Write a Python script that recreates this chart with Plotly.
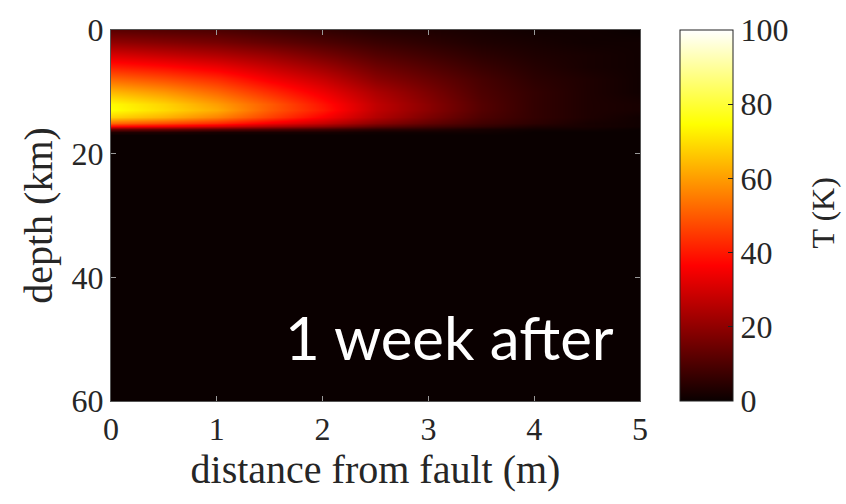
import plotly.graph_objects as go

# Distance from the fault (m) and depth (km) of the sampled grid
distance_m = [0, 0.5, 1, 1.5, 2, 2.5, 3, 3.5, 4, 4.5, 5]
depth_km = [0, 2, 4, 6, 8, 10, 12, 13, 14, 15, 15.5, 16, 16.5, 17, 60]

# Temperature change T (K); one row per depth, one column per distance
temperature_K = [
    [12, 11, 10, 8, 6, 4, 3, 2, 1, 1, 0],
    [20, 18, 16, 13, 10, 7, 5, 3, 2, 1, 1],
    [31, 28, 25, 21, 16, 11, 8, 5, 3, 2, 1],
    [41, 38, 34, 28, 22, 15, 11, 7, 4, 2, 1],
    [52, 48, 43, 35, 28, 19, 14, 9, 5, 3, 1],
    [64, 59, 52, 43, 34, 24, 17, 10, 6, 3, 1],
    [74, 68, 60, 50, 39, 27, 19, 11, 6, 3, 2],
    [75, 69, 62, 50, 40, 27, 19, 11, 6, 3, 2],
    [68, 63, 56, 46, 36, 25, 17, 10, 6, 3, 1],
    [52, 48, 43, 35, 28, 19, 13, 8, 5, 2, 1],
    [38, 35, 31, 25, 20, 13, 9, 6, 3, 2, 1],
    [15, 14, 12, 10, 8, 5, 4, 2, 1, 1, 0],
    [3, 3, 2, 2, 2, 1, 1, 1, 0, 0, 0],
    [0, 0, 0, 0, 0, 0, 0, 0, 0, 0, 0],
    [0, 0, 0, 0, 0, 0, 0, 0, 0, 0, 0],
]

x_ticks = [0, 1, 2, 3, 4, 5]
y_ticks = [0, 20, 40, 60]
cbar_ticks = [0, 20, 40, 60, 80, 100]

# black -> red -> yellow -> white ("hot")
hot = [
    [0.0, "rgb(10,0,0)"],
    [0.365, "rgb(255,0,0)"],
    [0.746, "rgb(255,255,0)"],
    [1.0, "rgb(255,255,255)"],
]

serif = "Liberation Serif, Times New Roman, serif"
txt = "#262626"

fig = go.Figure(
    go.Heatmap(
        x=distance_m,
        y=depth_km,
        z=temperature_K,
        zmin=0,
        zmax=100,
        zsmooth="best",
        colorscale=hot,
        colorbar=dict(
            x=1.0756,
            xanchor="left",
            xpad=0,
            y=0.5,
            yanchor="middle",
            ypad=0,
            len=1,
            lenmode="fraction",
            thickness=53,
            thicknessmode="pixels",
            outlinecolor="#222",
            outlinewidth=1,
            tickvals=cbar_ticks,
            ticks="inside",
            ticklen=5,
            tickcolor="#222",
            tickfont=dict(family=serif, size=32, color=txt),
        ),
        showscale=True,
    )
)

fig.update_xaxes(
    range=[0, 5],
    tickvals=x_ticks,
    ticks="inside",
    ticklen=5,
    tickcolor="#999",
    showline=True,
    linecolor="#555",
    linewidth=1,
    mirror="allticks",
    showgrid=False,
    zeroline=False,
    tickfont=dict(family=serif, size=32, color=txt),
    title=dict(
        text="distance from fault (m)",
        font=dict(family=serif, size=40, color=txt),
        standoff=4,
    ),
)
fig.update_yaxes(
    range=[60, 0],
    tickvals=y_ticks,
    ticks="inside",
    ticklen=5,
    tickcolor="#999",
    showline=True,
    linecolor="#555",
    linewidth=1,
    mirror="allticks",
    showgrid=False,
    zeroline=False,
    tickfont=dict(family=serif, size=32, color=txt),
    title=dict(
        text="depth (km)",
        font=dict(family=serif, size=40, color=txt),
        standoff=6,
    ),
)

fig.add_annotation(
    x=3.2,
    y=49.6,
    xref="x",
    yref="y",
    text="1 week after",
    showarrow=False,
    font=dict(family="Lato, Carlito, Calibri, sans-serif", size=60, color="white"),
    xanchor="center",
    yanchor="middle",
)

# colour-bar title, placed in pixel terms of the plotting area
px_w = 846 - 111 - 206
px_h = 504 - 27 - 103
fig.add_annotation(
    x=(823 - 111) / px_w,
    y=(504 - 103 - 212) / px_h,
    xref="paper",
    yref="paper",
    text="T (K)",
    showarrow=False,
    textangle=-90,
    font=dict(family=serif, size=32, color=txt),
    xanchor="center",
    yanchor="middle",
)

fig.update_layout(
    width=846,
    height=504,
    margin=dict(l=111, r=206, t=27, b=103),
    paper_bgcolor="white",
    plot_bgcolor="white",
    showlegend=False,
)

fig.write_html("out.html")
